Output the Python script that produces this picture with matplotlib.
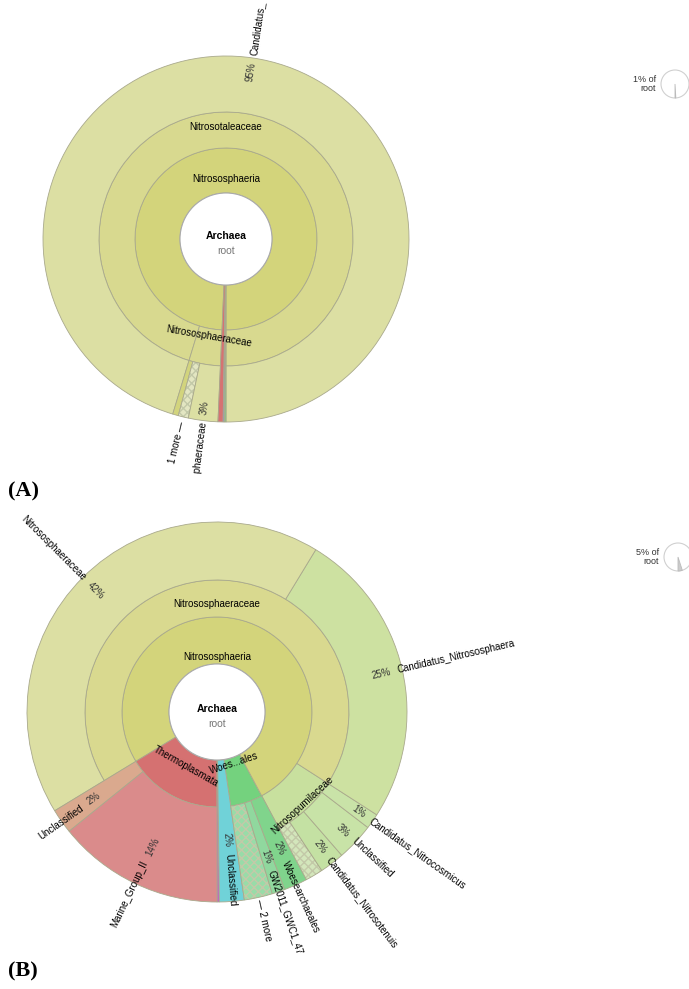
import numpy as np
import matplotlib
matplotlib.use("Agg")
from matplotlib import pyplot as plt
from matplotlib.patches import Wedge, Circle

plt.rcParams['font.family'] = ['Liberation Sans', 'DejaVu Sans']

# panel A: outer leaves, counter-clockwise from 6 o'clock, % of root
a_leaf = ['Candidatus_', '', '1 more', 'Nitrososphaeraceae', '', '', '']
a_pct = [95.3, 0.5, 0.9, 2.6, 0.45, 0.13, 0.12]
a_class = ['Nitrososphaeria'] * 4 + [None] * 3
a_family = ['Nitrosotaleaceae'] + ['Nitrososphaeraceae'] * 3 + [None] * 3

# panel B
b_leaf = ['', 'Unclassified', '2 more', 'GW2011_GWC1_47', 'Woesearchaeales',
          '', 'Candidatus_Nitrosotenuis', 'Unclassified', 'Candidatus_Nitrocosmicus',
          'Candidatus_Nitrososphaera', 'Nitrososphaeraceae', 'Unclassified', 'Marine_Group_II']
b_pct = [0.2, 2.1, 2.4, 1.1, 2.0, 1.5, 2.1, 3.2, 1.3, 25.4, 42.4, 2.1, 14.2]
b_class = [None, None] + ['Woesearchaeales'] * 3 + ['Nitrososphaeria'] * 6 + ['Thermoplasmata'] * 2
b_family = [None] * 5 + ['Nitrosopumilaceae'] * 4 + ['Nitrososphaeraceae'] * 2 + [None] * 2

# colours / styles
a_leaf_col = ['#dcdfa3', '#d2d47d', '#e3e6c2', '#dcdfa3', '#d67272', '#8080da', '#78d288']
a_hatch = [0, 0, 1, 0, 0, 0, 0]
a_node_col = {'Nitrososphaeria': '#d3d47b', 'Nitrosotaleaceae': '#d8d98f',
              'Nitrososphaeraceae': '#d8d98f'}
b_leaf_col = ['#c65fc6', '#70d2d8', '#98dca8', '#90d89e', '#80d48c', '#d3e6bb', '#c4e1a3',
              '#c8e3a7', '#c9e3a8', '#cde1a1', '#dcdfa3', '#daa98e', '#da8b8b']
b_hatch = [0, 0, 1, 0, 0, 1, 0, 0, 0, 0, 0, 0, 0]
b_node_col = {'Nitrososphaeria': '#d3d47b', 'Nitrososphaeraceae': '#d9d98f',
              'Nitrosopumilaceae': '#c8e09e', 'Thermoplasmata': '#d57171',
              'Woesearchaeales': '#74d27e'}
short = {'Woesearchaeales': 'Woes...ales'}

W, H = 689, 989
EDGE = '#a9a98c'
FS = 7


def pol(c, r, a):
    t = np.radians(a)
    return c[0] + r * np.cos(t), c[1] + r * np.sin(t)


def sunburst(ax, c, radii, leaf, pct, cls, fam, leaf_col, hatch, node_col,
             leaf_r, node_r):
    pct = np.asarray(pct, float)
    a0 = -90 + 3.6 * np.concatenate([[0], np.cumsum(pct)[:-1]])
    a1 = a0 + 3.6 * pct
    # ancestors
    for lev, names in enumerate([cls, fam]):
        i = 0
        while i < len(names):
            j = i
            while j + 1 < len(names) and names[j + 1] == names[i]:
                j += 1
            if names[i] is not None:
                t0, t1 = a0[i], a1[j]
                ax.add_patch(Wedge(c, radii[lev + 1], t0, t1, width=radii[lev + 1] - radii[lev],
                                   fc=node_col[names[i]], ec=EDGE, lw=0.6))
                span = t1 - t0
                m = 90 if span > 180 else (t0 + t1) / 2
                rot = m - 90 if np.sin(np.radians(m)) > 0 else m + 90
                if span > 180:
                    rot = 0
                x, y = pol(c, node_r[names[i]], m)
                ax.text(x, y, short.get(names[i], names[i]), rotation=rot, rotation_mode='anchor',
                        ha='center', va='center', fontsize=FS, clip_on=True)
            i = j + 1
    # leaves
    for k in range(len(pct)):
        depth = 1 + (cls[k] is not None) + (fam[k] is not None)
        r_in = radii[depth - 1]
        if hatch[k]:
            ax.add_patch(Wedge(c, radii[3], a0[k], a1[k], width=radii[3] - r_in,
                               fc=leaf_col[k], ec='#c3c9a8', hatch='xxxx', lw=0))
            ax.add_patch(Wedge(c, radii[3], a0[k], a1[k], width=radii[3] - r_in,
                               fill=False, ec=EDGE, lw=0.6))
        else:
            ax.add_patch(Wedge(c, radii[3], a0[k], a1[k], width=radii[3] - r_in,
                               fc=leaf_col[k], ec=EDGE, lw=0.6))
        if not leaf[k] or leaf_r[k] is None:
            continue
        m = (a0[k] + a1[k]) / 2
        right = np.cos(np.radians(m)) > 0
        rot = m if right else m - 180
        rn = leaf_r[k]
        more = leaf[k].endswith('more')
        if right:
            name = ('\u2014 ' + leaf[k]) if more else leaf[k]
            x, y = pol(c, rn, m)
            ax.text(x, y, name, rotation=rot, rotation_mode='anchor', ha='left',
                    va='center', fontsize=FS, clip_on=True)
            if not more:
                x, y = pol(c, rn - 7, m)
                ax.text(x, y, '%d%%' % round(pct[k]), rotation=rot, rotation_mode='anchor',
                        ha='right', va='center', fontsize=FS, color='#333333', clip_on=True)
        else:
            name = (leaf[k] + ' \u2014') if more else leaf[k]
            x, y = pol(c, rn, m)
            ax.text(x, y, name, rotation=rot, rotation_mode='anchor', ha='right',
                    va='center', fontsize=FS, clip_on=True)
            if not more:
                x, y = pol(c, rn - 7, m)
                ax.text(x, y, '%d%%' % round(pct[k]), rotation=rot, rotation_mode='anchor',
                        ha='left', va='center', fontsize=FS, color='#333333', clip_on=True)
    # centre
    ax.add_patch(Circle(c, radii[0], fc='white', ec='#aaaaaa', lw=0.8))
    ax.text(c[0], c[1] + 3, 'Archaea', ha='center', va='center', fontsize=7.5,
            fontweight='bold', clip_on=True)
    ax.text(c[0], c[1] - 12, 'root', ha='center', va='center', fontsize=7.5,
            color='#777777', clip_on=True)


def legend(ax, c, share):
    ax.add_patch(Circle(c, 14, fc='white', ec='#d0d0d0', lw=0.8))
    ax.add_patch(Wedge(c, 14, -90, -90 + 3.6 * share, fc='#cccccc', ec='#bbbbbb', lw=0.6))
    ax.text(c[0] - 19, c[1], '%d%% of\nroot' % share, ha='right', va='center',
            fontsize=6.5, color='#333333', linespacing=1.1)


fig = plt.figure(figsize=(W / 100, H / 100), dpi=100)
cut = 474
axA = fig.add_axes([0, 1 - cut / H, 1, cut / H])
axA.set_xlim(0, W)
axA.set_ylim(H - cut, H)
axB = fig.add_axes([0, 0, 1, 1 - cut / H])
axB.set_xlim(0, W)
axB.set_ylim(0, H - cut)
for ax in (axA, axB):
    ax.set_axis_off()

sunburst(axA, (226, H - 239), [46, 91, 127, 183], a_leaf, a_pct, a_class, a_family,
         a_leaf_col, a_hatch, a_node_col,
         [186, None, 188, 184, None, None, None],
         {'Nitrososphaeria': 60, 'Nitrosotaleaceae': 112, 'Nitrososphaeraceae': 99})
legend(axA, (675, H - 84), 1)

sunburst(axB, (217, H - 712), [48, 95, 132, 190], b_leaf, b_pct, b_class, b_family,
         b_leaf_col, b_hatch, b_node_col,
         [None, 142, 192, 167, 164, None, 184, 187, 187, 185, 188, 165, 166],
         {'Nitrososphaeria': 55, 'Nitrososphaeraceae': 108, 'Nitrosopumilaceae': 126,
          'Thermoplasmata': 63, 'Woesearchaeales': 54})
legend(axB, (678, H - 557), 5)

for lab, yy in (('(A)', 491), ('(B)', 971)):
    fig.text(8 / W, 1 - yy / H, lab, ha='left', va='center', fontsize=16,
             fontweight='bold', family='Liberation Serif')

fig.savefig('out.png', dpi=100)
